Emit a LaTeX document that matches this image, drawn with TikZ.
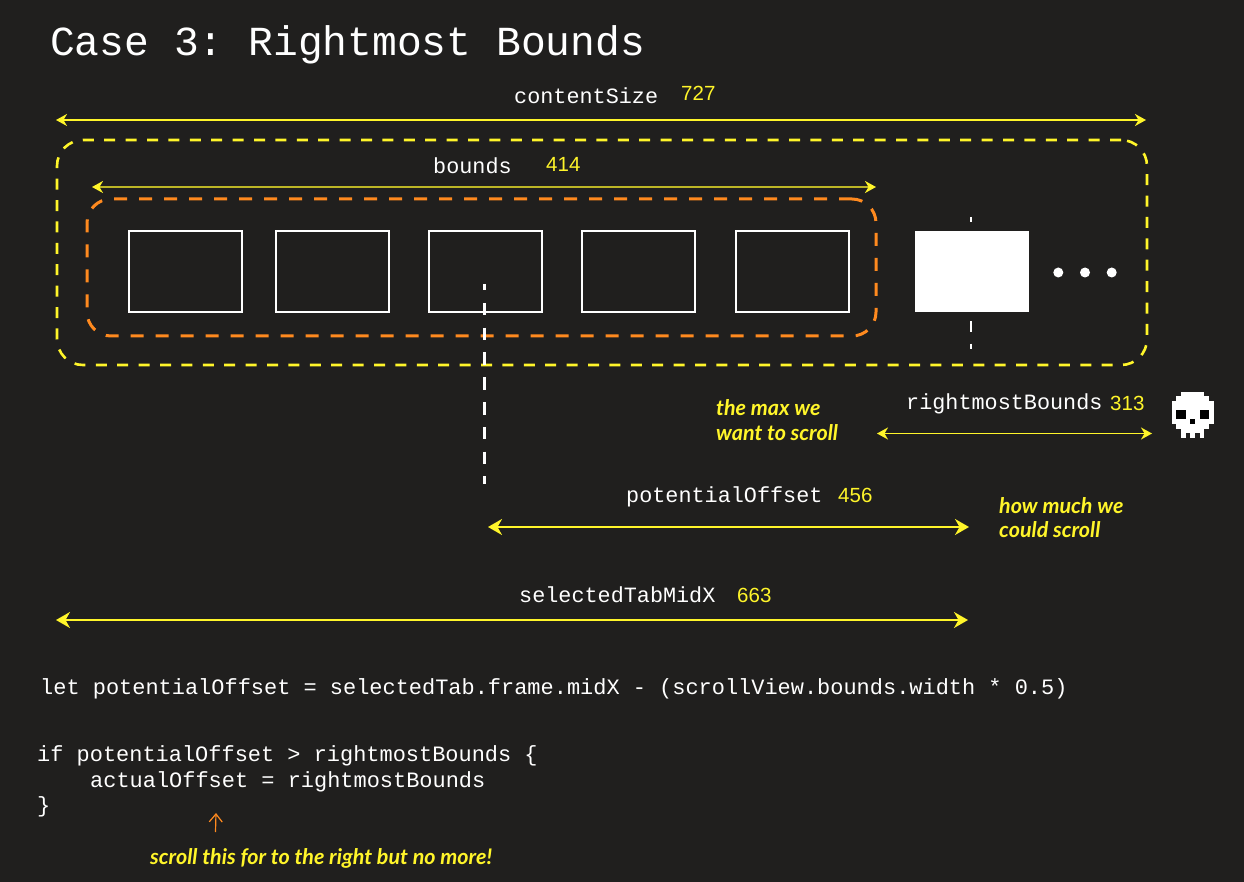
\documentclass[tikz,border=0pt]{standalone}
\usepackage{xcolor}
\usepackage{fontspec}
\usepackage{tikz}
\usetikzlibrary{arrows.meta, positioning}
\setmonofont{Liberation Mono}
\newfontfamily\numfont{Liberation Sans}
\newfontfamily\handfont{Lato}
\definecolor{canvasdark}{HTML}{201F1E}
\definecolor{markyellow}{HTML}{FFF52A}
\definecolor{markorange}{HTML}{FF8A1F}

\begin{document}
\begin{tikzpicture}[
  x=1pt, y=-1pt,
  tabbox/.style={rectangle, draw=white, line width=2pt, outer sep=0pt, minimum width=113pt, minimum height=81pt},
  dotmark/.style={circle, fill=white, outer sep=0pt, inner sep=0pt, minimum size=10pt},
  contentzone/.style={rectangle, rounded corners=26pt, draw=markyellow, line width=2.6pt, dash pattern=on 11pt off 10.4pt, minimum width=1090pt, minimum height=225pt},
  boundszone/.style={rectangle, rounded corners=24pt, draw=markorange, line width=3pt, dash pattern=on 13pt off 12pt, minimum width=789pt, minimum height=137pt},
  titlebox/.style={inner sep=0pt, anchor=base west, text=white, font=\fontsize{41.3}{46}\selectfont\ttfamily},
  labelbox/.style={inner sep=0pt, anchor=base west, text=white, font=\fontsize{21.8}{26}\selectfont\ttfamily},
  codebox/.style={inner sep=0pt, anchor=base west, text=white, font=\fontsize{21.95}{26}\selectfont\ttfamily},
  numbox/.style={inner sep=0pt, anchor=base west, text=markyellow, font=\fontsize{20.5}{24}\selectfont\numfont},
  handbox/.style={inner sep=0pt, anchor=base west, align=left, text=markyellow, font=\fontsize{21.5}{24.5}\selectfont\handfont\bfseries\itshape},
  spanthin/.style={{Stealth[length=11pt, width=12pt, inset=3.5pt, color=markyellow]}-{Stealth[length=11pt, width=12pt, inset=3.5pt, color=markyellow]}, draw=markyellow, line width=1.8pt},
  spanthick/.style={{Stealth[length=14pt, width=16pt, inset=4.5pt]}-{Stealth[length=14pt, width=16pt, inset=4.5pt]}, draw=markyellow, fill=markyellow, line width=2pt}
]
  % Page background - fixes the margins
  \fill[canvasdark] (0,0) rectangle (1244,882);

  % Title
  \node[titlebox] (title) at (50,56) {Case 3: Rightmost Bounds};

  % Dashed zones
  \node[contentzone] (contentzone) at (602,252.5) {};
  \node[boundszone] (boundszone) at (481.5,267.5) {};

  % Guide behind the selected tab
  \coordinate (guidetop) at (971,217);
  \coordinate (guidebot) at (971,349);
  \draw[white, line width=2pt, dash pattern=on 11pt off 11pt, dash phase=5.5pt] (guidetop) -- (guidebot);

  % Tabs, left to right
  \node[tabbox] (tabone) at (185.5,271.5) {};
  \node[tabbox, right=33.5pt of tabone] (tabtwo) {};
  \node[tabbox, right=40.5pt of tabtwo] (tabthree) {};
  \node[tabbox, right=40pt of tabthree] (tabfour) {};
  \node[tabbox, right=40.5pt of tabfour] (tabfive) {};
  \node[tabbox, draw=none, fill=white, minimum width=114pt, right=66.5pt of tabfive] (tabsix) {};

  % More tabs
  \node[dotmark] (dotone) at (1058.3,272.5) {};
  \node[dotmark, right=16.7pt of dotone] (dottwo) {};
  \node[dotmark, right=16.7pt of dottwo] (dotthree) {};

  % Mid line of the selected tab
  \coordinate (midtop) at (484.5,284);
  \coordinate (midbot) at (484.5,484);
  \draw[white, line width=2.4pt, dash pattern=on 12.5pt off 12.3pt, dash phase=6pt] (midtop) -- (midbot);

  % Span ends
  \coordinate (contentl) at (56,120);
  \coordinate (contentr) at (1146,120);
  \coordinate (boundsl) at (92,187);
  \coordinate (boundsr) at (876,187);
  \coordinate (rightl) at (877,433.5);
  \coordinate (rightr) at (1152,433.5);
  \coordinate (offsetl) at (488,527);
  \coordinate (offsetr) at (969,527);
  \coordinate (midxl) at (56,620);
  \coordinate (midxr) at (968,620);

  % Spans
  \draw[spanthin] (contentl) -- (contentr);
  \draw[spanthin, draw=markyellow!70!canvasdark] (boundsl) -- (boundsr);
  \draw[spanthin] (rightl) -- (rightr);
  \draw[spanthick] (offsetl) -- (offsetr);
  \draw[spanthick] (midxl) -- (midxr);

  % Span labels and values
  \node[labelbox] (contentlabel) at (514,104) {contentSize};
  \node[numbox] (contentnum) at (681,101) {727};
  \node[labelbox] (boundslabel) at (433,174) {bounds};
  \node[numbox] (boundsnum) at (546,172) {414};
  \node[labelbox] (rightlabel) at (906,409.5) {rightmostBounds};
  \node[numbox] (rightnum) at (1110,410) {313};
  \node[labelbox] (offsetlabel) at (626,502.5) {potentialOffset};
  \node[numbox] (offsetnum) at (838,502) {456};
  \node[labelbox] (midxlabel) at (519,602) {selectedTabMidX};
  \node[numbox] (midxnum) at (737,602) {663};

  % Handwritten notes
  \node[handbox] (maxnote) at (716,440) {the max we\\want to scroll};
  \node[handbox] (couldnote) at (999,537.5) {how much we\\could scroll};
  \node[handbox] (farnote) at (150,864) {scroll this for to the right but no more!};

  % Skull
  \begin{scope}[shift={(1171.5,391.7)}, x=4.67pt, y=-4.63pt]
    \foreach \row/\from/\to in {0/2/7, 1/1/8, 2/0/9, 3/0/9, 4/0/9, 5/0/9, 6/0/9, 7/1/8, 8/2/7, 9/2/3, 9/4/5, 9/6/7}
      \fill[white] (\from,\row) rectangle (\to,\row+1);
    \fill[black] (1,4) rectangle (3,6);
    \fill[black] (6,4) rectangle (8,6);
    \fill[black] (4,6) rectangle (5,7);
  \end{scope}

  % Code
  \node[codebox] (letline) at (40,694) {let potentialOffset = selectedTab.frame.midX - (scrollView.bounds.width * 0.5)};
  \node[codebox] (ifline) at (37,761) {if potentialOffset > rightmostBounds \{};
  \node[codebox] (setline) at (90,787) {actualOffset = rightmostBounds};
  \node[codebox] (endline) at (37,812) {\}};

  % Pointer up to the code
  \coordinate (pointtail) at (215.5,832);
  \coordinate (pointtip) at (216,813);
  \draw[-{Straight Barb[length=8pt, width=13pt]}, markorange, line width=1.2pt] (pointtail) -- (pointtip);
\end{tikzpicture}
\end{document}
